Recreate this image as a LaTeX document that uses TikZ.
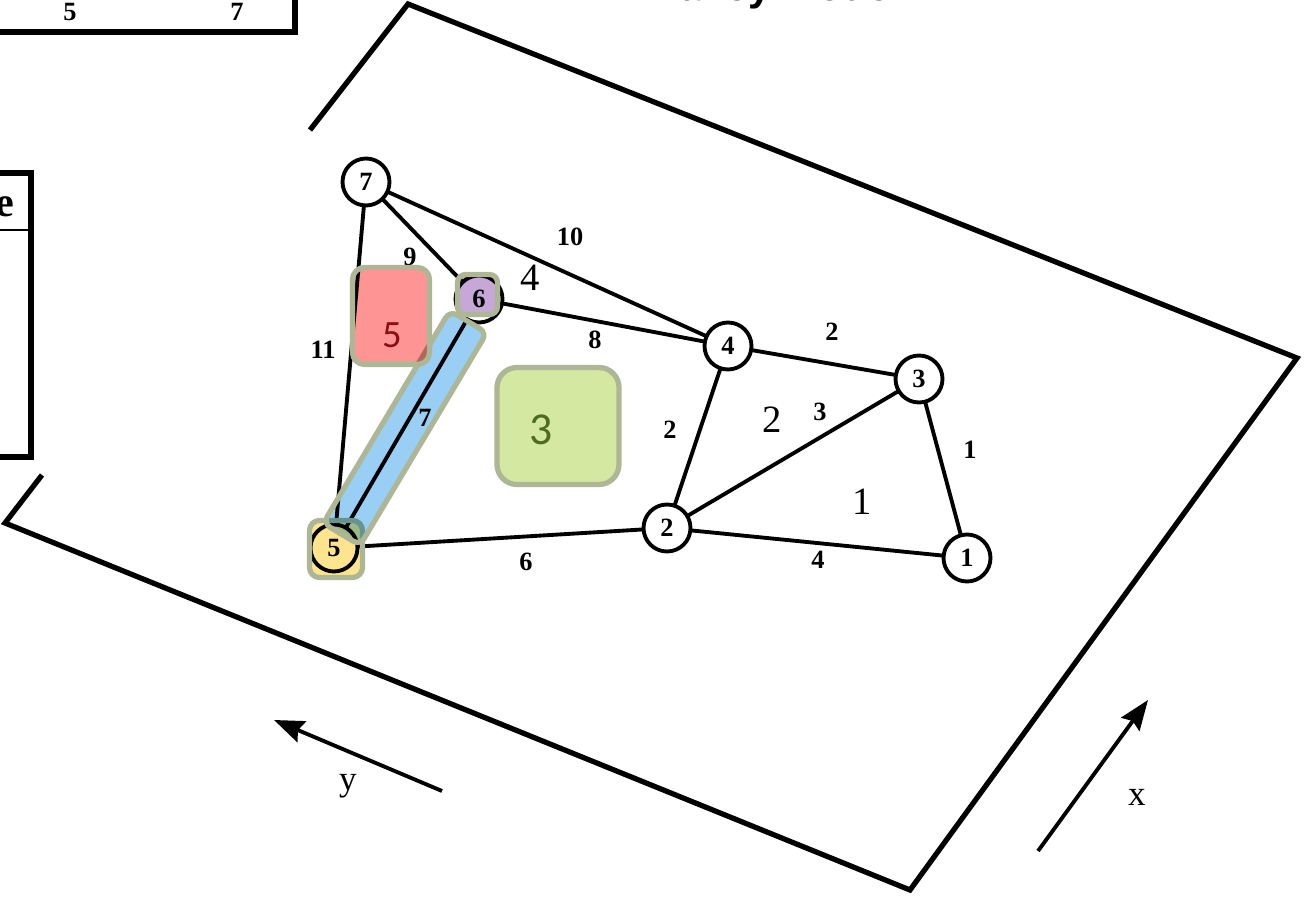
\documentclass[tikz,border=0pt]{standalone}
\usepackage{fontspec}
\setmainfont{Liberation Serif}
\newfontfamily\headfont{Liberation Sans}
\newfontfamily\patchfont{Carlito}
\definecolor{rim}{HTML}{ADB795}
\definecolor{redpatch}{HTML}{FF9494}
\definecolor{purplepatch}{HTML}{C6A7D8}
\definecolor{greenpatch}{HTML}{D5E8A2}
\definecolor{yellowpatch}{HTML}{FFE48F}
\definecolor{bluepatch}{HTML}{9ACFF5}
\definecolor{redtext}{HTML}{8A0F12}
\definecolor{greentext}{HTML}{4E6B1F}
\usepackage{tikz}
\usetikzlibrary{arrows.meta}
\usetikzlibrary{positioning}
\tikzstyle{base}=[x=0.02cm, y=-0.02cm, inner sep=0pt, outer sep=0pt]
\tikzstyle{plane}=[line width=3pt, line join=miter]
\tikzstyle{edge}=[line width=2.2pt]
\tikzstyle{vertex}=[draw, circle, fill=white, line width=2.2pt, minimum size=0.94cm, font=\fontsize{15}{15}\selectfont\bfseries]
\tikzstyle{elabel}=[font=\fontsize{15}{15}\selectfont\bfseries]
\tikzstyle{flabel}=[font=\fontsize{22}{22}\selectfont]
\tikzstyle{patch}=[draw=rim, line width=3pt]
\tikzset{tint/.style={preaction={fill=#1, blend mode=multiply}}}
\tikzstyle{axis}=[line width=2.2pt, -{Stealth[length=0.6cm, width=0.45cm, inset=0.08cm]}]

\begin{document}
\begin{tikzpicture}[base]
    \useasboundingbox (0,0) rectangle (1307,901);
    \clip (0,0) rectangle (1307,901);
    % bits of the table on the left
        \draw [line width=3.2pt] (0,32) -- (295,32) -- (295,0);
        \node [elabel] (t5) at (70,12) {5};
        \node [elabel] (t7) at (237,12) {7};
        \draw [line width=3.2pt] (0,173) -- (31,173) -- (31,457) -- (0,457);
        \draw [line width=1.6pt] (0,230) -- (31,230);
        \node [font=\fontsize{24}{24}\selectfont\bfseries, anchor=east] (te) at (14,207) {e};
        \node [font=\headfont\bfseries\fontsize{23.5}{24}\selectfont, anchor=base] (title) at (776,1) {Bailey Model};
    % the plane
        \draw [plane] (310,130) -- (408,4) -- (1297,358) -- (910,890) -- (5,523) -- (42,475);
    % graph
        \node [vertex] (v7) at (366,182) {7};
        \node [vertex] (v6) at (479,299) {6};
        \node [vertex] (v4) at (728,346) {4};
        \node [vertex] (v3) at (919,379) {3};
        \node [vertex] (v2) at (667,528) {2};
        \node [vertex] (v1) at (967,558) {1};
        \node [vertex] (v5) at (334,548) {5};
        \draw [edge] (v7) -- (v4);
        \draw [edge] (v7) -- (v6);
        \draw [edge] (v7) -- (v5);
        \draw [edge] (v6) -- (v4);
        \draw [edge] (v6) -- (v5);
        \draw [edge] (v5) -- (v2);
        \draw [edge] (v4) -- (v3);
        \draw [edge] (v4) -- (v2);
        \draw [edge] (v2) -- (v3);
        \draw [edge] (v3) -- (v1);
        \draw [edge] (v2) -- (v1);
        \node [elabel] (e10) at (570,237) {10};
        \node [elabel] (e9) at (410,257) {9};
        \node [elabel] (e8) at (595,340) {8};
        \node [elabel] (e11) at (323,350) {11};
        \node [elabel] (e7) at (425,418) {7};
        \node [elabel] (e6) at (526,562) {6};
        \node [elabel] (e2a) at (832,332) {2};
        \node [elabel] (e2b) at (670,430) {2};
        \node [elabel] (e3) at (820,412) {3};
        \node [elabel] (e1) at (970,450) {1};
        \node [elabel] (e4) at (818,560) {4};
        \node [flabel] (f4) at (530,278) {4};
        \node [flabel] (f2) at (772,420) {2};
        \node [flabel] (f1) at (862,502) {1};
    % coloured patches
        \node [patch, tint=yellowpatch, rounded corners=0.2cm, minimum width=1.06cm, minimum height=1.14cm] (hub5) at (336,549) {};
        \node [patch, tint=bluepatch, rounded corners=0.16cm, minimum width=4.95cm, minimum height=0.86cm, rotate=59.2] (strip7) at (405,428) {};
        \node [patch, tint=greenpatch, rounded corners=0.4cm, minimum width=2.44cm, minimum height=2.34cm] (face3) at (558,426) {};
        \node [patch, tint=redpatch, rounded corners=0.24cm, minimum width=1.54cm, minimum height=1.94cm] (face5) at (391,316) {};
        \node [patch, tint=purplepatch, rounded corners=0.16cm, minimum width=0.8cm, minimum height=0.8cm] (hub6) at (477.5,294.5) {};
        \node [font=\patchfont\fontsize{22}{22}\selectfont, redtext] (l5) at (392,335) {5};
        \node [font=\patchfont\fontsize{26}{26}\selectfont, greentext] (l3) at (541,430) {3};
    % axes
        \coordinate (ytail) at (442,791);
        \coordinate (yhead) at (274,720);
        \coordinate (xtail) at (1038,851);
        \coordinate (xhead) at (1148,700);
        \draw [axis] (ytail) -- (yhead);
        \draw [axis] (xtail) -- (xhead);
        \node [font=\fontsize{20}{20}\selectfont] (ylab) at (348,786) {y};
        \node [font=\fontsize{20}{20}\selectfont] (xlab) at (1137,797) {x};
    \end{tikzpicture}
\end{document}
